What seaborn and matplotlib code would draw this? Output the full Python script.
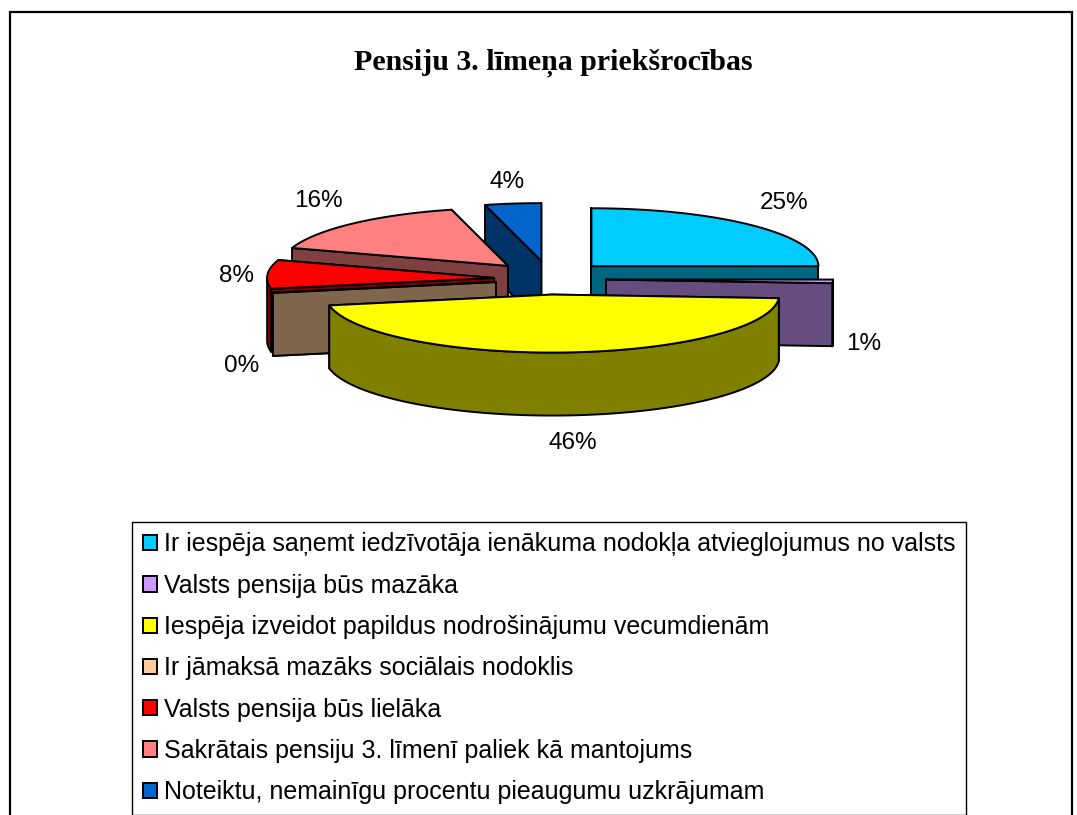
import numpy as np
import seaborn as sns
import matplotlib.pyplot as plt
from matplotlib.patches import Patch

title = "Pensiju 3. līmeņa priekšrocības"
categories = [
    "Ir iespēja saņemt iedzīvotāja ienākuma nodokļa atvieglojumus no valsts",
    "Valsts pensija būs mazāka",
    "Iespēja izveidot papildus nodrošinājumu vecumdienām",
    "Ir jāmaksā mazāks sociālais nodoklis",
    "Valsts pensija būs lielāka",
    "Sakrātais pensiju 3. līmenī paliek kā mantojums",
    "Noteiktu, nemainīgu procentu pieaugumu uzkrājumam",
]
values = [25, 1, 46, 0, 8, 16, 4]
slice_colors = ["#00CCFF", "#CC99FF", "#FFFF00", "#FFCC99", "#FF0000", "#FF8080", "#0066CC"]

# layout of the fake 3d pie, in pixels
CENTER = (549, 279)
RX, RY = 227, 58
DEPTH = 63
TILT = 0.30
explode = [60, 57, 52, 54, 55, 60, 60]
label_offsets = [(32, -22), (31, 63), (6, 91), (-31, 73), (-31, 2), (-34, -23), (-6, -22)]
draw_order = [6, 0, 5, 4, 3, 1, 2]
LW = 1.4


def ellipse(apex, angles):
    a = np.radians(angles)
    return apex[0] + RX * np.sin(a), apex[1] - RY * np.cos(a)


def draw_slice(ax, apex, start, end, color):
    dark = tuple(c * 0.5 for c in color)
    style = dict(edgecolor="black", linewidth=LW, joinstyle="round")

    # radial faces, the one further back goes first
    faces = []
    for ang in (start, end):
        x, y = ellipse(apex, np.array([ang]))
        faces.append((y[0], x[0]))
    for y, x in sorted(faces):
        ax.fill([apex[0], x, x, apex[0]], [apex[1], y, y + DEPTH, apex[1] + DEPTH], facecolor=dark, **style)

    # outer wall, only the front half of the rim shows
    lo, hi = max(start, 90), min(end, 270)
    if hi > lo:
        x, y = ellipse(apex, np.linspace(lo, hi, 80))
        ax.fill(np.r_[x, x[::-1]], np.r_[y, (y + DEPTH)[::-1]], facecolor=dark, **style)

    x, y = ellipse(apex, np.linspace(start, end, 80))
    ax.fill(np.r_[apex[0], x], np.r_[apex[1], y], facecolor=color, **style)


sns.set_theme(style="white")
plt.rcParams["font.family"] = ["Liberation Sans", "DejaVu Sans"]
palette = sns.color_palette(slice_colors)

fig = plt.figure(figsize=(10.77, 8.15), dpi=100)
ax = fig.add_axes([0, 0, 1, 1])
ax.set_xlim(0, 1077)
ax.set_ylim(815, 0)
ax.axis("off")

# chart frame, the bottom is cut off in the original
ax.plot([10, 10, 1072, 1072], [815, 12, 12, 815], color="black", lw=1.6, solid_joinstyle="miter")

ax.text(553, 63, title, ha="center", va="center", fontsize=21.5, fontweight="bold",
        family="Liberation Serif", color="black")

bounds = np.r_[0, np.cumsum(values)] * 3.6
apexes = []
for i in range(len(values)):
    mid = np.radians((bounds[i] + bounds[i + 1]) / 2)
    apexes.append((CENTER[0] + explode[i] * np.sin(mid), CENTER[1] - explode[i] * np.cos(mid) * TILT))

for i in draw_order:
    draw_slice(ax, apexes[i], bounds[i], bounds[i + 1], palette[i])

for i, val in enumerate(values):
    x, y = ellipse(apexes[i], np.array([(bounds[i] + bounds[i + 1]) / 2]))
    ax.text(x[0] + label_offsets[i][0], y[0] + label_offsets[i][1], f"{val}%",
            ha="center", va="center", fontsize=17.5, color="black")

handles = [Patch(facecolor=c, edgecolor="black", linewidth=LW) for c in palette]
leg = ax.legend(
    handles, categories,
    loc="upper left", bbox_to_anchor=(132, 522), bbox_transform=ax.transData,
    fontsize=18, frameon=True, fancybox=False, framealpha=1, edgecolor="black",
    handlelength=0.56, handleheight=0.56, handletextpad=0.28,
    labelspacing=0.69, borderpad=0.42, borderaxespad=0, labelcolor="black",
)
leg.get_frame().set_linewidth(1.0)

fig.savefig("out.png", dpi=100)
